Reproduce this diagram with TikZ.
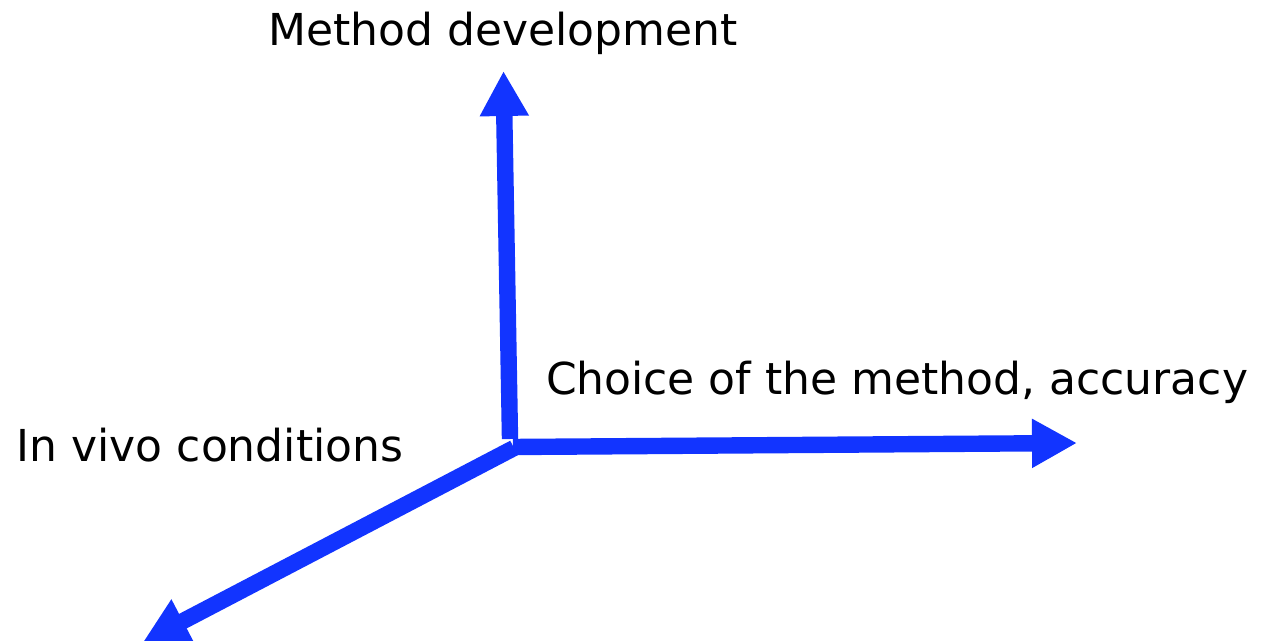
\documentclass[tikz,border=0pt]{standalone}
\usepackage{fontspec}
\setmainfont{DejaVu Sans}
\usetikzlibrary{arrows.meta}
\definecolor{axisblue}{RGB}{18,52,255}

\begin{document}
\begin{tikzpicture}[x=0.5pt,y=-0.5pt,
  axis/.style={draw=axisblue,line width=8.2pt,-{Triangle[length=22.5pt,width=23pt]}},
  lbl/.style={font=\fontsize{22}{26}\selectfont,inner sep=0pt}]
\useasboundingbox (0,0) rectangle (1261,641);

% start and end points of the three axes
\coordinate (up0) at (510,439);
\coordinate (up1) at (503.5,71);
\coordinate (right0) at (513,447);
\coordinate (right1) at (1077,443);
\coordinate (diag0) at (514,448);
\coordinate (diag1) at (143,642);

\draw[axis] (up0) -- (up1);
\draw[axis] (right0) -- (right1);
\draw[axis] (diag0) -- (diag1);

\node[lbl] (dev) at (503,33) {Method development};
\node[lbl] (choice) at (897,382) {Choice of the method, accuracy};
\node[lbl] (vivo) at (210,445) {In vivo conditions};
\end{tikzpicture}
\end{document}
